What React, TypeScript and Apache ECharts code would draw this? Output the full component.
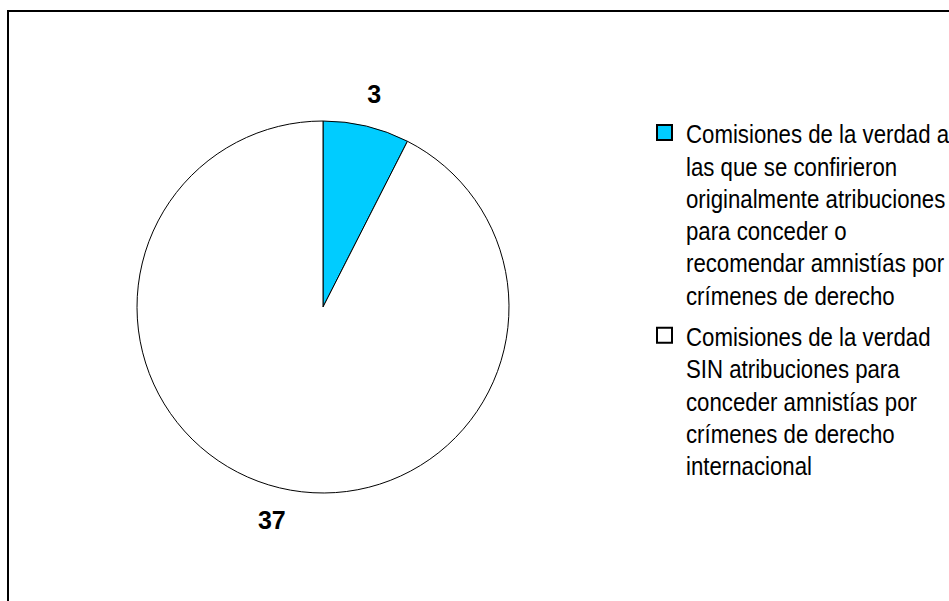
import React, { useEffect, useRef } from "react";
import * as echarts from "echarts";

const categories = [
  "Comisiones de la verdad a las que se confirieron originalmente atribuciones para conceder o recomendar amnistías por crímenes de derecho",
  "Comisiones de la verdad SIN atribuciones para conceder amnistías por crímenes de derecho internacional",
];
const legendLines = [
  [
    "Comisiones de la verdad a",
    "las que se confirieron",
    "originalmente atribuciones",
    "para conceder o",
    "recomendar amnistías por",
    "crímenes de derecho",
  ],
  [
    "Comisiones de la verdad",
    "SIN atribuciones para",
    "conceder amnistías por",
    "crímenes de derecho",
    "internacional",
  ],
];
const values = [3, 37];
const colors = ["#00CCFF", "#FFFFFF"];

const FONT = "'Liberation Sans', Arial, sans-serif";

export default function App() {
  const ref = useRef<HTMLDivElement>(null);
  useEffect(() => {
    const chart = echarts.init(ref.current!, undefined, { renderer: "svg" });
    const data = categories.map((name, i) => ({
      name,
      value: values[i],
      itemStyle: { color: colors[i] },
    }));
    const lineH = 32.3;
    const legendTop = 118;
    const legendGraphics: any[] = [];
    let y = legendTop;
    legendLines.forEach((lines, i) => {
      legendGraphics.push({
        type: "rect",
        shape: { x: 657, y: y + 7, width: 15, height: 15 },
        style: { fill: colors[i], stroke: "#000", lineWidth: 2 },
      });
      legendGraphics.push({
        type: "text",
        x: 686,
        y: y,
        scaleX: 0.855,
        style: {
          text: lines.join("\n"),
          font: `26px ${FONT}`,
          lineHeight: lineH,
          fill: "#000",
          verticalAlign: "top",
          align: "left",
        },
      });
      y += lines.length * lineH + 9;
    });
    chart.setOption({
      animation: false,
      backgroundColor: "#fff",
      graphic: [
        {
          type: "rect",
          shape: { x: 8, y: 11, width: 1200, height: 1200 },
          style: { fill: "none", stroke: "#000", lineWidth: 2 },
        },
        ...legendGraphics,
      ],
      series: [
        {
          type: "pie",
          center: [323, 307],
          radius: [0, 186],
          startAngle: 90,
          clockwise: true,
          silent: true,
          label: { show: false },
          labelLine: { show: false },
          itemStyle: { borderColor: "#000", borderWidth: 1 },
          data,
        },
        {
          type: "pie",
          center: [323, 307],
          radius: [186, 246],
          startAngle: 90,
          clockwise: true,
          silent: true,
          itemStyle: { color: "transparent", borderWidth: 0 },
          label: {
            show: true,
            position: "inside",
            formatter: "{c}",
            color: "#000",
            fontFamily: FONT,
            fontWeight: "bold",
            fontSize: 25,
          },
          labelLine: { show: false },
          data: categories.map((name, i) => ({ name, value: values[i] })),
        },
      ],
    });
    return () => chart.dispose();
  }, []);
  return (
    <div
      ref={ref}
      style={{ position: "fixed", left: 0, top: 0, width: 949, height: 601 }}
    />
  );
}
